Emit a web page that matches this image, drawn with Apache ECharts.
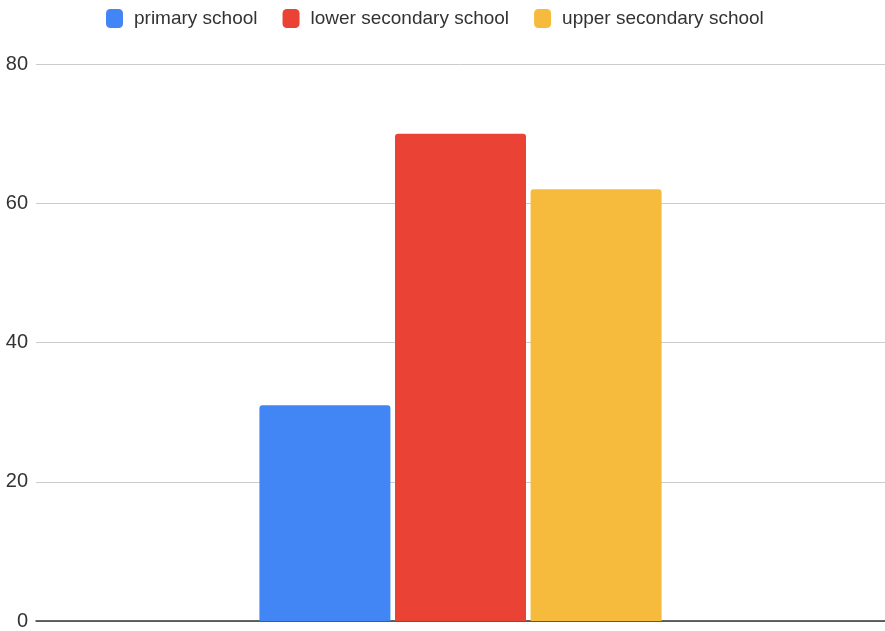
<!DOCTYPE html>
<html>
<head>
<meta charset="utf-8">
<title>School levels</title>
<script src="https://cdn.jsdelivr.net/npm/echarts@6/dist/echarts.min.js"></script>
<style>
  html, body { margin: 0; padding: 0; background: #fff; overflow: hidden; }
  #chart { width: 885px; height: 631px; }
</style>
</head>
<body>
<div id="chart"></div>
<script>
// Chart data
const categories = [''];
const seriesNames = ['primary school', 'lower secondary school', 'upper secondary school'];
const primarySchool = [31];
const lowerSecondarySchool = [70];
const upperSecondarySchool = [62];
const yTicks = { min: 0, max: 80, interval: 20 };

const colors = ['#4285F4', '#EA4335', '#F6BB3D'];
const font = '"Liberation Sans", Arial, sans-serif';

const seriesValues = [primarySchool, lowerSecondarySchool, upperSecondarySchool];

const chart = echarts.init(document.getElementById('chart'), null, { renderer: 'canvas' });

chart.setOption({
  animation: false,
  color: colors,
  legend: {
    top: 4,
    left: 101,
    itemWidth: 17,
    itemHeight: 19,
    itemGap: 25,
    icon: 'roundRect',
    textStyle: { fontFamily: font, fontSize: 19, color: '#333', padding: [0, 0, 0, 6] },
    data: seriesNames
  },
  grid: { left: 36, right: 0, top: 64, bottom: 5, containLabel: false },
  xAxis: {
    type: 'category',
    data: categories,
    axisLine: { lineStyle: { color: '#333', width: 1.5 } },
    axisTick: { show: false },
    axisLabel: { show: false }
  },
  yAxis: {
    type: 'value',
    min: yTicks.min,
    max: yTicks.max,
    interval: yTicks.interval,
    axisLine: { show: false },
    axisTick: { show: false },
    axisLabel: { fontFamily: font, fontSize: 20, color: '#333', margin: 8 },
    splitLine: { lineStyle: { color: '#cccccc', width: 1 } }
  },
  series: seriesNames.map((name, i) => ({
    name: name,
    type: 'bar',
    data: seriesValues[i],
    barWidth: 131,
    barGap: '3.5%',
    itemStyle: { borderRadius: [3, 3, 0, 0] }
  }))
});
</script>
</body>
</html>
